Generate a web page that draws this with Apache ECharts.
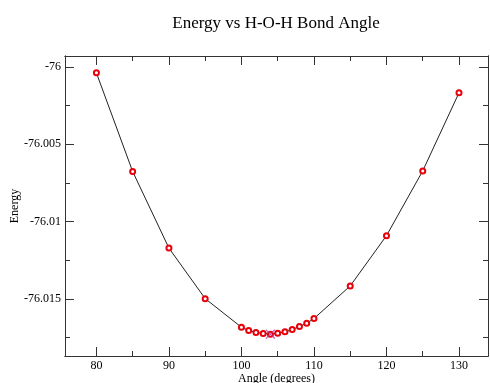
<!DOCTYPE html>
<html>
<head>
<meta charset="utf-8">
<script src="https://cdn.jsdelivr.net/npm/echarts@6/dist/echarts.min.js"></script>
<style>html,body{margin:0;padding:0;background:#fff}#c{width:490px;height:383px}</style>
</head>
<body>
<div id="c"></div>
<script>
const angles = [80, 85, 90, 95, 100, 101, 102, 103, 104, 105, 106, 107, 108, 109, 110, 115, 120, 125, 130];
const energies = [-76.00039, -76.00677, -76.01172, -76.01499, -76.01684, -76.01705, -76.01718, -76.01725, -76.01729,
  -76.01723, -76.01713, -76.01699, -76.01679, -76.01658, -76.01628, -76.01417, -76.01092, -76.00673, -76.00168];
const minimumPoint = [104, -76.01729];
const xMajorTicks = [80, 90, 100, 110, 120, 130];
const xMinorTicks = [85, 95, 105, 115, 125];
const yMajorTicks = [-76, -76.005, -76.01, -76.015];
const yMinorTicks = [-76.0025, -76.0075, -76.0125, -76.0175];
const X_MIN = 75.67, X_MAX = 134, Y_MIN = -76.0187, Y_MAX = -75.9993;

const font = 'Liberation Serif, Times New Roman, serif';
const lineStyle = { color: '#333', width: 1 };

function xAx(pos, ticks, len, labels, name) {
  return {
    type: 'value', position: pos, min: X_MIN, max: X_MAX,
    axisLine: { show: true, lineStyle },
    axisTick: { show: true, inside: true, length: len, customValues: ticks, lineStyle },
    axisLabel: labels ? { show: true, customValues: ticks, color: '#000', fontFamily: font, fontSize: 12, margin: 4 } : { show: false },
    splitLine: { show: false },
    name: name || '', nameLocation: 'middle', nameGap: 17, nameMoveOverlap: false,
    nameTextStyle: { fontFamily: font, fontSize: 12, color: '#000' }
  };
}
function yAx(pos, ticks, len, labels, name) {
  return {
    type: 'value', position: pos, min: Y_MIN, max: Y_MAX,
    axisLine: { show: true, lineStyle },
    axisTick: { show: true, inside: true, length: len, customValues: ticks, lineStyle },
    axisLabel: labels ? { show: true, customValues: ticks, color: '#000', fontFamily: font, fontSize: 12, margin: 4,
      formatter: v => String(+(+v).toFixed(4)) } : { show: false },
    splitLine: { show: false },
    name: name || '', nameLocation: 'middle', nameGap: 44, nameMoveOverlap: false,
    nameTextStyle: { fontFamily: font, fontSize: 12, color: '#000' }
  };
}

const chart = echarts.init(document.getElementById('c'), null, { renderer: 'canvas' });
chart.setOption({
  animation: false,
  backgroundColor: '#fff',
  title: {
    text: 'Energy vs H-O-H Bond Angle', left: 271, top: 10, textAlign: 'center',
    textStyle: { fontFamily: font, fontSize: 17, fontWeight: 'normal', color: '#000' }
  },
  grid: { left: 65, right: 2, top: 56, bottom: 27, containLabel: false, outerBoundsMode: 'none' },
  xAxis: [
    xAx('bottom', xMajorTicks, 9, true, 'Angle (degrees)'),
    xAx('bottom', xMinorTicks, 5, false),
    xAx('top', xMajorTicks, 9, false),
    xAx('top', xMinorTicks, 5, false)
  ],
  yAxis: [
    yAx('left', yMajorTicks, 9, true, 'Energy'),
    yAx('left', yMinorTicks, 5, false),
    yAx('right', yMajorTicks, 9, false),
    yAx('right', yMinorTicks, 5, false)
  ],
  series: [
    {
      type: 'line', xAxisIndex: 0, yAxisIndex: 0,
      data: angles.map((a, i) => [a, energies[i]]),
      symbol: 'emptyCircle', symbolSize: 5,
      itemStyle: { color: '#e8000b', borderWidth: 1 },
      lineStyle: { color: '#222', width: 1 }
    },
    {
      type: 'scatter', xAxisIndex: 0, yAxisIndex: 0,
      data: [minimumPoint],
      symbol: 'path://M0 0L10 10M10 0L0 10', symbolSize: 9,
      itemStyle: { color: 'rgba(0,0,0,0)', borderColor: '#b8309c', borderWidth: 1.2 },
      z: 5
    }
  ]
});
</script>
</body>
</html>
